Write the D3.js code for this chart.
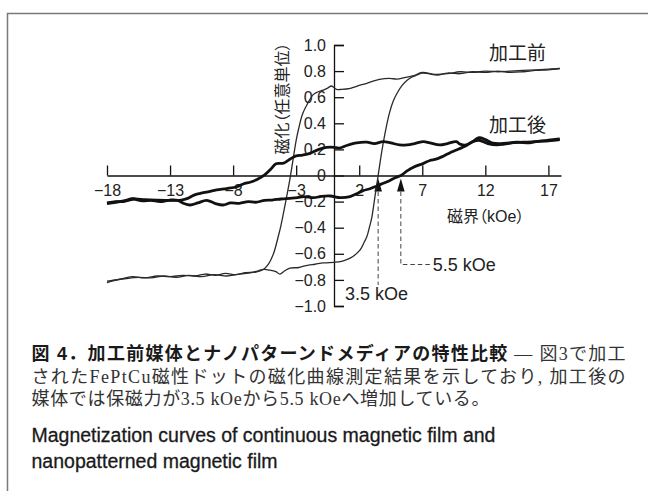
<!DOCTYPE html>
<html><head><meta charset="utf-8">
<script src="https://cdn.jsdelivr.net/npm/d3@7"></script>
<style>
html,body{margin:0;padding:0;background:#fff;}
svg{display:block;}
.num{font-family:"Liberation Sans",Arial,sans-serif;}
.cjk{font-family:"Liberation Sans","Noto Sans CJK JP",sans-serif;font-feature-settings:"palt";}
</style></head><body>
<svg id="chart" width="648" height="491"></svg>
<script>
// ---- data ----
const xTicks = [-18,-13,-8,-3,2,7,12,17];
const yTicks = [1,0.8,0.6,0.4,0.2,0,-0.2,-0.4,-0.6,-0.8,-1];
const yTickLabels = ["1.0","0.8","0.6","0.4","0.2","0","−0.2","−0.4","−0.6","−0.8","−1.0"];

// 加工前 (continuous film): descending branch (H from +18 to -18)
const beforeDownH = [17.9,17,16,15,14,13,12,11,10,9,8,7,6.3,5.6,5,4.4,3.6,3,2.6,2,1.3,0.6,0.2,-0.2,-0.5,-0.85,-1.3,-1.65,-2.1,-2.5,-2.8,-3,-3.25,-3.5,-3.75,-3.95,-4.2,-4.4,-4.8,-5.2,-5.6,-6.2,-7,-7.8,-8.6,-9.4,-10.2,-11,-12,-13,-14,-15,-16,-17,-18];
const beforeDownM = [0.82,0.815,0.81,0.805,0.8,0.795,0.8,0.79,0.795,0.78,0.775,0.79,0.765,0.75,0.738,0.745,0.737,0.72,0.706,0.69,0.668,0.66,0.66,0.686,0.67,0.655,0.64,0.62,0.55,0.47,0.36,0.27,0.12,-0.03,-0.16,-0.26,-0.38,-0.46,-0.6,-0.68,-0.72,-0.74,-0.745,-0.76,-0.75,-0.765,-0.755,-0.77,-0.765,-0.775,-0.77,-0.785,-0.775,-0.795,-0.81];
// 加工前: ascending branch (H from -18 to +18)
const beforeUpH = [-18,-17.2,-16.5,-15.5,-14.5,-13.5,-12.5,-11.5,-10.5,-9.5,-8.5,-7.5,-6.6,-6,-5.6,-5.1,-4.6,-4.3,-3.9,-3.5,-2.8,-2.2,-1.5,-0.85,0,0.5,1,1.5,2.07,2.4,2.6,2.8,3,3.25,3.5,3.8,4.1,4.4,4.7,5,5.4,5.8,6.2,6.6,7,7.5,8.2,9,10,11,12,13,14,15,16,17,17.9];
const beforeUpM = [-0.82,-0.8,-0.79,-0.78,-0.785,-0.77,-0.78,-0.765,-0.775,-0.76,-0.77,-0.755,-0.745,-0.73,-0.72,-0.725,-0.737,-0.755,-0.73,-0.71,-0.705,-0.69,-0.68,-0.67,-0.665,-0.66,-0.645,-0.62,-0.57,-0.51,-0.47,-0.4,-0.32,-0.16,0,0.19,0.35,0.48,0.57,0.63,0.69,0.73,0.755,0.77,0.785,0.78,0.77,0.785,0.78,0.795,0.79,0.8,0.79,0.795,0.805,0.81,0.82];

// 加工後 (nanopatterned): descending branch
const afterDownH = [17.9,17,16,15.5,14.5,13.5,12.9,12.2,11.5,11,10.5,10,9.7,9,8.4,7.6,7.1,6.4,5.8,5.2,4.5,3.9,3.2,2.6,1.8,1,0.4,0,-0.6,-1.2,-1.9,-2.5,-3,-3.5,-4,-4.6,-5,-5.5,-6.1,-6.6,-7.2,-7.7,-8.5,-9.3,-10,-10.6,-11.1,-11.6,-12.1,-13,-14.1,-15,-15.9,-16.7,-17.3,-18];
const afterDownM = [0.275,0.265,0.26,0.25,0.255,0.24,0.234,0.245,0.27,0.26,0.234,0.24,0.26,0.245,0.234,0.25,0.26,0.245,0.235,0.234,0.25,0.26,0.245,0.255,0.25,0.23,0.21,0.216,0.215,0.2,0.17,0.157,0.15,0.125,0.095,0.09,0.05,0.005,-0.03,-0.05,-0.065,-0.086,-0.1,-0.11,-0.125,-0.137,-0.15,-0.175,-0.188,-0.19,-0.188,-0.185,-0.18,-0.2,-0.2,-0.21];
// 加工後: ascending branch
const afterUpH = [-18,-17.3,-16.5,-16,-15.2,-14.5,-13.8,-13,-12.4,-11.9,-11.4,-10.8,-10.1,-9.4,-8.8,-8.2,-7.5,-6.8,-6.2,-5.5,-4.9,-4.2,-3.5,-2.9,-2.4,-1.6,-1,-0.3,0.5,1.27,1.8,2.3,2.9,3.4,3.9,4.4,4.9,5.3,5.8,6.3,7.1,7.6,8.1,8.7,9.2,9.7,10.5,11,11.5,12,12.5,13.2,14,15,16,17,17.9];
const afterUpM = [-0.215,-0.205,-0.19,-0.178,-0.195,-0.19,-0.2,-0.188,-0.19,-0.215,-0.226,-0.21,-0.19,-0.215,-0.226,-0.21,-0.213,-0.2,-0.205,-0.19,-0.188,-0.18,-0.175,-0.17,-0.162,-0.17,-0.16,-0.157,-0.17,-0.162,-0.14,-0.116,-0.1,-0.08,-0.06,-0.04,-0.015,0,0.035,0.063,0.093,0.115,0.125,0.15,0.175,0.195,0.23,0.26,0.29,0.275,0.25,0.245,0.25,0.255,0.26,0.27,0.28];

const arrowH = [3.5, 5.3];
const arrowLabels = ["3.5 kOe", "5.5 kOe"];

// ---- drawing ----
const svg = d3.select("#chart");
svg.append("rect").attr("width",648).attr("height",491).attr("fill","#fff");
// frame
svg.append("path").attr("d","M648,13.5H7.5V491").attr("fill","none").attr("stroke","#7a7a7a").attr("stroke-width",1.5);

const x = d3.scaleLinear().domain([-18,18]).range([107,561]);
const y = d3.scaleLinear().domain([-1,1]).range([306,45]);

// x axis
const gx = svg.append("g").attr("transform",`translate(0,${y(0)})`)
  .call(d3.axisBottom(x).tickValues(xTicks).tickSizeInner(-10).tickSizeOuter(0).tickPadding(9)
    .tickFormat(d => d3.format("d")(d)));
// y axis
const gy = svg.append("g").attr("transform",`translate(${x(0)},0)`)
  .call(d3.axisLeft(y).tickValues(yTicks).tickSizeInner(-10).tickSizeOuter(-10).tickPadding(8)
    .tickFormat((d,i) => yTickLabels[i]));
[gx, gy].forEach(g => {
  g.attr("font-family",null).attr("font-size",null);
  g.selectAll("path,line").attr("stroke","#111").attr("stroke-width",1.3);
  g.selectAll("text").attr("class","num").attr("font-size",16).attr("fill","#222");
});

// axis titles
svg.append("text").attr("class","cjk")
  .attr("transform","translate(282,98.5) rotate(-90)")
  .attr("text-anchor","middle").attr("dominant-baseline","central")
  .attr("font-size",16).attr("fill","#222").text("磁化（任意単位）");
svg.append("text").attr("class","cjk")
  .attr("x",447).attr("y",216).attr("dominant-baseline","central")
  .attr("font-size",16).attr("fill","#222").text("磁界（kOe）");

// curve labels
svg.append("text").attr("class","cjk").attr("x",489).attr("y",53.5)
  .attr("dominant-baseline","central").attr("font-size",19).attr("fill","#222").text("加工前");
svg.append("text").attr("class","cjk").attr("x",489).attr("y",125)
  .attr("dominant-baseline","central").attr("font-size",19).attr("fill","#222").text("加工後");

// arrows & dashed leaders
const tipY = y(0) + 3, baseY = y(0) + 16;
arrowH.forEach((h,i) => {
  const ax = x(h);
  svg.append("path").attr("d",`M${ax},${tipY}L${ax-3.8},${baseY}L${ax+3.8},${baseY}Z`).attr("fill","#111");
  const endY = i === 0 ? 285 : 264.5;
  let d = `M${ax},${baseY}V${endY}`;
  if (i === 1) d += `H${ax+29}`;
  svg.append("path").attr("d",d).attr("fill","none").attr("stroke","#444")
    .attr("stroke-width",1).attr("stroke-dasharray","4.5,3");
});
svg.append("text").attr("class","num").attr("x",345).attr("y",300)
  .attr("font-size",18).attr("fill","#222").text(arrowLabels[0]);
svg.append("text").attr("class","num").attr("x",x(arrowH[1])+32).attr("y",271)
  .attr("font-size",18).attr("fill","#222").text(arrowLabels[1]);

// curves
const line = d3.line().x(d => x(d[0])).y(d => y(d[1])).curve(d3.curveCatmullRom.alpha(0.5));
const zip = (a,b) => a.map((v,i) => [v,b[i]]);
[[beforeDownH,beforeDownM],[beforeUpH,beforeUpM]].forEach(([h,m]) => {
  svg.append("path").datum(zip(h,m)).attr("d",line).attr("fill","none")
    .attr("stroke","#2a2a2a").attr("stroke-width",1.3).attr("stroke-linejoin","round");
});
[[afterDownH,afterDownM],[afterUpH,afterUpM]].forEach(([h,m]) => {
  svg.append("path").datum(zip(h,m)).attr("d",line).attr("fill","none")
    .attr("stroke","#111").attr("stroke-width",2.8).attr("stroke-linejoin","round");
});

// caption
const cap = svg.append("g");
const l1 = cap.append("text").attr("x",31.5).attr("y",360).attr("font-size",18)
  .attr("textLength",594).attr("lengthAdjust","spacing");
l1.append("tspan").attr("font-family","'Liberation Sans','Noto Sans CJK JP',sans-serif")
  .attr("font-weight","bold").attr("fill","#1a1a1a").text("図 4．加工前媒体とナノパターンドメディアの特性比較");
l1.append("tspan").attr("font-family","'Liberation Serif','Noto Sans CJK JP',serif")
  .attr("fill","#333").text(" — 図3で加工");
cap.append("text").attr("x",31.5).attr("y",383).attr("font-size",18)
  .attr("font-family","'Liberation Serif','Noto Sans CJK JP',serif").attr("fill","#333")
  .attr("textLength",594).attr("lengthAdjust","spacing")
  .text("されたFePtCu磁性ドットの磁化曲線測定結果を示しており, 加工後の");
cap.append("text").attr("x",31.5).attr("y",405).attr("font-size",18)
  .attr("font-family","'Liberation Serif','Noto Sans CJK JP',serif").attr("fill","#333")
  .attr("textLength",458).attr("lengthAdjust","spacing")
  .text("媒体では保磁力が3.5 kOeから5.5 kOeへ増加している。");
cap.append("text").attr("x",31.5).attr("y",442).attr("font-size",19.5)
  .attr("font-family","'Liberation Sans',Arial,sans-serif").attr("fill","#1a1a1a")
  .attr("stroke","#1a1a1a").attr("stroke-width",0.3)
  .text("Magnetization curves of continuous magnetic film and");
cap.append("text").attr("x",31.5).attr("y",468).attr("font-size",19.5)
  .attr("font-family","'Liberation Sans',Arial,sans-serif").attr("fill","#1a1a1a")
  .attr("stroke","#1a1a1a").attr("stroke-width",0.3)
  .text("nanopatterned magnetic film");
</script>
</body></html>
